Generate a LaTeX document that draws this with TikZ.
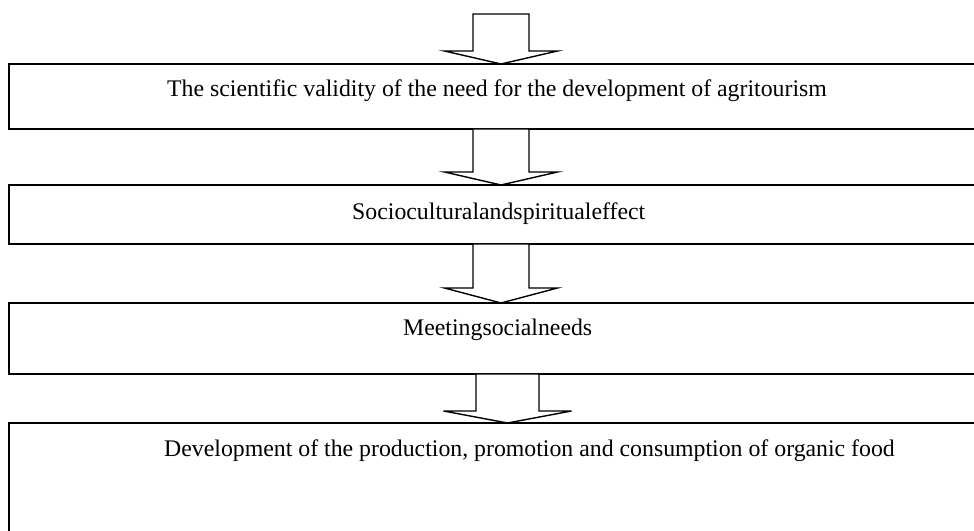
\documentclass[tikz,border=0pt]{standalone}
\usepackage{fontspec}
\setmainfont{Liberation Serif}
\usetikzlibrary{calc}
\newcommand\blockarr[5]{%
  \draw[barrow] let \p1=(#1), \p2=(#2) in
    (\x1-#3,\y1) -- (\x1+#3,\y1) -- (\x1+#3,\y2+#5) -- (\x1+#4,\y2+#5)
    -- (\x2,\y2) -- (\x1-#4,\y2+#5) -- (\x1-#3,\y2+#5) -- cycle;}
\begin{document}
\begin{tikzpicture}[x=1pt,y=1pt,
  box/.style={draw=black, line width=2pt, inner sep=0pt, outer sep=0pt, anchor=north west, minimum width=981pt},
  lbl/.style={font=\fontsize{23.8}{28}\selectfont, inner sep=0pt, anchor=base west},
  barrow/.style={draw=black, line width=1.4pt, fill=white, line join=miter}]
\useasboundingbox (0,0) rectangle (974,530);
\clip (0,0) rectangle (974,530);
\node[box, minimum height=65pt] (b1) at (9,466) {};
\node[box, minimum height=59pt] (b2) at (9,345) {};
\node[box, minimum height=71pt] (b3) at (9,227) {};
\node[box, minimum height=140pt] (b4) at (9,107) {};
\node[lbl] (t1) at (167,433) {The scientific validity of the need for the development of agritourism};
\node[lbl] (t2) at (352,310) {Socioculturalandspiritualeffect};
\node[lbl] (t3) at (403,194) {Meetingsocialneeds};
\node[lbl] (t4) at (164,73) {Development of the production, promotion and consumption of organic food};
\coordinate (ax1) at (501,0);
\coordinate (ax2) at (507.5,0);
\coordinate (a0) at (501,516);
\blockarr{a0}{b1.north -| ax1}{28}{56.5}{13}
\blockarr{b1.south -| ax1}{b2.north -| ax1}{28}{56.5}{13}
\blockarr{b2.south -| ax1}{b3.north -| ax1}{28}{56.5}{15}
\blockarr{b3.south -| ax2}{b4.north -| ax2}{31.5}{64}{12}
\end{tikzpicture}
\end{document}
